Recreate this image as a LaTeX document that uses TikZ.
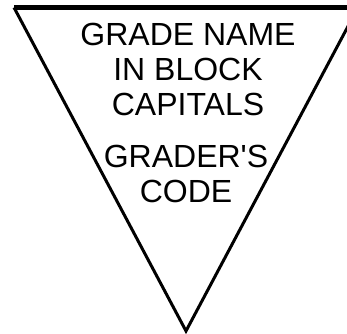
\documentclass[tikz,border=0pt]{standalone}
\usepackage{fontspec}
\setmainfont{Liberation Sans}
\begin{document}
\begin{tikzpicture}[x=1pt,y=1pt,
  lbl/.style={anchor=base,inner sep=0pt,font=\fontsize{32}{32}\selectfont},
  edge/.style={line width=3pt,line join=miter}]
\useasboundingbox (0,0) rectangle (347,333);
\clip (0,0) rectangle (347,333);
\coordinate (tl) at (14,325.5);
\coordinate (tr) at (358,325.5);
\coordinate (b) at (186,2);
\draw[edge] (tl) -- (b) -- (tr);
\draw[line width=4pt] (tl) -- (tr);
\node[lbl] (n1) at (188,288) {GRADE NAME};
\node[lbl] (n2) at (188,253) {IN BLOCK};
\node[lbl] (n3) at (188,218) {CAPITALS};
\node[lbl] (n4) at (186,166) {GRADER\textquotesingle S};
\node[lbl] (n5) at (186,131) {CODE};
\end{tikzpicture}
\end{document}
